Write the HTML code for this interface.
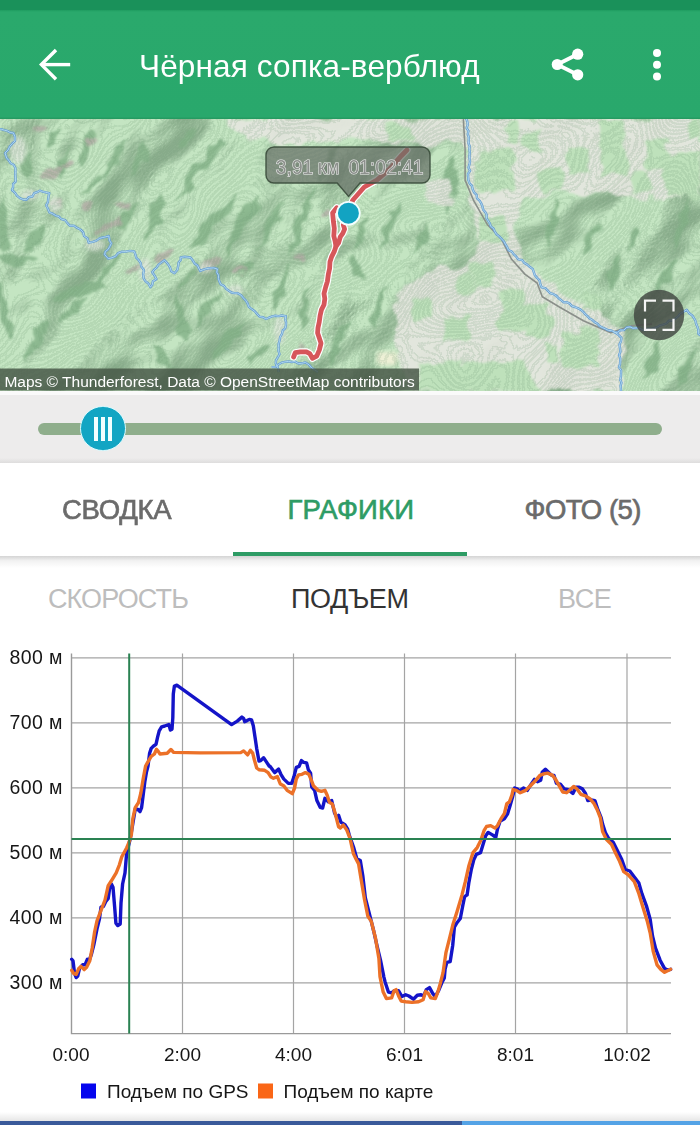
<!DOCTYPE html>
<html><head><meta charset="utf-8">
<style>
*{margin:0;padding:0;box-sizing:border-box}
html,body{width:700px;height:1125px;overflow:hidden;background:#fff;font-family:"Liberation Sans",Arial,sans-serif}
.abs{position:absolute}
#status{left:0;top:0;width:700px;height:10px;background:#1a915a}
#toolbar{left:0;top:10px;width:700px;height:108.6px;background:linear-gradient(#1f9c60,#2aa96c 2px,#29a86c 106.5px,#24985f);z-index:1}
#title{z-index:3;left:139px;top:45.5px;font-size:31.5px;color:#fff;letter-spacing:0.15px;white-space:nowrap;line-height:40px}
#map{left:0;top:118px;width:700px;height:273px;overflow:hidden;background:#c2e2c0}
#gap{left:0;top:391px;width:700px;height:4px;background:#fafafa}
#slider{left:0;top:395px;width:700px;height:68px;background:#edecec}
#slider .sh{left:0;bottom:0;width:700px;height:5px;background:linear-gradient(#edecec,#dedddd)}
#track{left:38px;top:423px;width:624px;height:12px;border-radius:6px;background:#8fae8c}
#thumb{left:79.8px;top:405.5px;width:45.8px;height:45.8px;border-radius:50%;background:#12a5c3;border:1.8px solid #dcfbff}
#thumb i{position:absolute;top:10px;width:4.3px;height:24px;background:#f2ffff}
.tab{position:absolute;top:490px;font-size:27.5px;-webkit-text-stroke:0.65px currentColor;letter-spacing:-0.3px;color:#6b6b6b;white-space:nowrap;line-height:40px}
#ind{left:233px;top:552px;width:234px;height:4px;background:#2e9c65}
#tabsh{left:0;top:556px;width:700px;height:12px;background:linear-gradient(#d4d4d4,#f2f2f2 40%,#fff)}
.sub{position:absolute;top:580.8px;font-size:27px;letter-spacing:-0.4px;white-space:nowrap;line-height:36px}
#bottombar{left:0;top:1121px;width:700px;height:4px;background:#54a3e6}
#bottombar b{position:absolute;left:0;top:0;width:462px;height:4px;background:#3a5a9a}
#bottomsh{left:0;top:1112px;width:700px;height:9px;background:linear-gradient(#fff,#e6e6e6)}
</style></head>
<body>
<div id="status" class="abs"></div>
<div id="toolbar" class="abs"></div>
<svg class="abs" style="left:0;top:0;z-index:3" width="700" height="118" viewBox="0 0 700 118">
  <g stroke="#fff" stroke-width="3.4" fill="none" stroke-linecap="square">
    <path d="M43 64.6H68.5"/>
    <path d="M54.8 51.2L41.4 64.6L54.8 78"/>
  </g>
  <g fill="#fff">
    <circle cx="577.7" cy="54.2" r="5.6"/>
    <circle cx="577.7" cy="74.8" r="5.6"/>
    <circle cx="557.2" cy="64.5" r="5.5"/>
    <path d="M557.2 64.5L577.7 54.2M557.2 64.5L577.7 74.8" stroke="#fff" stroke-width="3.8"/>
    <circle cx="657" cy="53" r="4"/>
    <circle cx="657" cy="64.8" r="4"/>
    <circle cx="657" cy="76.5" r="4"/>
  </g>
</svg>
<div id="title" class="abs">Чёрная сопка-верблюд</div>

<div id="map" class="abs">
<svg class="abs" style="left:0;top:0" width="700" height="273" viewBox="0 0 700 273">
<defs>
<filter id="b8" x="-50%" y="-50%" width="200%" height="200%"><feGaussianBlur stdDeviation="8"/></filter>
<filter id="b4" x="-50%" y="-50%" width="200%" height="200%"><feGaussianBlur stdDeviation="4"/></filter>
</defs>
<defs><filter id="hs" x="-50%" y="-50%" width="200%" height="200%" color-interpolation-filters="sRGB"><feTurbulence type="fractalNoise" baseFrequency="0.009 0.013" numOctaves="3" seed="5" result="n"/><feColorMatrix in="n" type="matrix" values="0 0 0 0 0  0 0 0 0 0  0 0 0 0 0  1 0 0 0 0" result="h"/><feDiffuseLighting in="h" surfaceScale="30" diffuseConstant="1.0" lighting-color="#fff" result="l"><feDistantLight azimuth="270" elevation="45"/></feDiffuseLighting><feColorMatrix in="l" type="matrix" values="0 0 0 0 0.38  0 0 0 0 0.52  0 0 0 0 0.40  -1.3 0 0 0 1.0"/></filter><filter id="ct" x="-50%" y="-50%" width="200%" height="200%" color-interpolation-filters="sRGB"><feTurbulence type="fractalNoise" baseFrequency="0.009 0.013" numOctaves="2" seed="5" result="n"/><feComponentTransfer in="n" result="b"><feFuncR type="discrete" tableValues="0 1 0 1 0 1 0 1 0 1 0 1 0 1 0 1 0 1 0 1 0 1 0 1 0 1 0 1 0 1 0 1 0 1 0 1 0 1 0 1 0 1 0 1 0 1 0 1 0 1 0 1 0 1 0 1 0 1 0 1"/></feComponentTransfer><feConvolveMatrix in="b" order="3" kernelMatrix="0 -1 0 -1 4 -1 0 -1 0" divisor="1" preserveAlpha="true" result="e"/><feColorMatrix in="e" type="matrix" values="0 0 0 0 0.42  0 0 0 0 0.58  0 0 0 0 0.45  2 0 0 0 0"/></filter><filter id="b3" x="-50%" y="-50%" width="200%" height="200%"><feGaussianBlur stdDeviation="3"/></filter><filter id="b2" x="-50%" y="-50%" width="200%" height="200%"><feGaussianBlur stdDeviation="2.2"/></filter><filter id="b1" x="-50%" y="-50%" width="200%" height="200%"><feTurbulence type="fractalNoise" baseFrequency="0.06" numOctaves="2" seed="3" result="t"/><feDisplacementMap in="SourceGraphic" in2="t" scale="16" xChannelSelector="R" yChannelSelector="G" result="d"/><feGaussianBlur in="d" stdDeviation="0.9"/></filter></defs>
<rect width="700" height="273" fill="#c4e5c2"/>
<g transform="rotate(-45 350 136)"><rect x="-400" y="-400" width="1500" height="1073" filter="url(#hs)" opacity="0.55"/></g>
<g transform="translate(0,-118)">
<g fill="#86b48a" filter="url(#b1)" opacity="0.85">
<path d="M32 150Q18.4 159.2 25 183Q36.2 163.0 32 150Z"/>
<path d="M72 148Q53.3 161.1 57 180Q69.8 168.8 72 148Z"/>
<path d="M97 125Q79.2 141.5 82 168Q96.4 147.5 97 125Z"/>
<path d="M125 138Q107.1 149.1 105 180Q123.6 156.9 125 138Z"/>
<path d="M105 173Q85.2 177.6 82 193Q95.2 189.1 105 173Z"/>
<path d="M150 143Q130.0 156.1 130 180Q146.0 164.8 150 143Z"/>
<path d="M165 193Q144.5 208.6 145 243Q164.2 216.5 165 193Z"/>
<path d="M140 200Q116.7 211.7 117 230Q131.2 222.8 140 200Z"/>
<path d="M5 195Q-15.0 226.2 3 255Q15.3 227.2 5 195Z"/>
<path d="M45 220Q23.8 228.8 28 255Q45.7 239.4 45 220Z"/>
<path d="M225 138Q197.1 151.4 175 200Q213.7 164.7 225 138Z"/>
<path d="M240 193Q200.6 214.9 190 250Q218.9 230.9 240 193Z"/>
<path d="M262 193Q233.2 215.3 225 255Q251.5 226.2 262 193Z"/>
<path d="M287 200Q263.9 214.5 257 255Q282.6 224.7 287 200Z"/>
<path d="M315 188Q287.8 222.9 290 255Q307.7 230.3 315 188Z"/>
<path d="M207 155Q187.8 169.2 185 193Q200.9 176.9 207 155Z"/>
<path d="M0 258Q13.5 274.8 37 262Q16.2 250.6 0 258Z"/>
<path d="M110 282Q71.2 278.7 55 300Q78.7 301.8 110 282Z"/>
<path d="M87 297Q62.0 302.1 57 325Q76.5 317.7 87 297Z"/>
<path d="M50 320Q26.1 329.5 25 360Q46.7 342.4 50 320Z"/>
<path d="M0 280Q-8.9 304.2 12 342Q12.0 300.2 0 280Z"/>
<path d="M150 342Q152.3 364.8 172 367Q168.3 350.7 150 342Z"/>
<path d="M292 262Q270.3 280.6 272 312Q290.0 288.5 292 262Z"/>
<path d="M257 260Q243.7 258.1 237 275Q252.8 270.3 257 260Z"/>
<path d="M222 292Q195.8 303.0 195 325Q212.2 316.5 222 292Z"/>
<path d="M247 320Q218.1 330.0 212 360Q236.4 346.0 247 320Z"/>
<path d="M270 342Q252.9 345.1 250 367Q267.1 356.5 270 342Z"/>
<path d="M175 292Q171.4 325.7 187 342Q189.1 321.4 175 292Z"/>
<path d="M350 318Q327.1 338.9 330 367Q346.8 347.0 350 318Z"/>
<path d="M350 255Q346.8 271.9 365 280Q362.5 262.5 350 255Z"/>
<path d="M455 150Q434.6 171.3 445 218Q461.7 175.3 455 150Z"/>
<path d="M400 200Q378.2 223.8 380 250Q395.2 230.5 400 200Z"/>
<path d="M430 225Q412.8 234.0 415 255Q429.1 242.2 430 225Z"/>
<path d="M560 200Q543.4 215.7 545 250Q560.9 221.0 560 200Z"/>
<path d="M600 225Q581.0 237.6 585 255Q597.3 245.8 600 225Z"/>
<path d="M640 225Q624.0 235.8 625 255Q637.6 242.5 640 225Z"/>
<path d="M690 200Q671.1 218.7 670 255Q688.2 224.9 690 200Z"/>
<path d="M622 255Q598.6 272.2 607 292Q621.2 281.4 622 255Z"/>
<path d="M675 262Q653.0 272.6 655 295Q671.2 283.6 675 262Z"/>
<path d="M660 340Q642.7 353.6 645 380Q659.8 360.0 660 340Z"/>
<path d="M695 345Q678.9 357.1 680 390Q696.2 362.9 695 345Z"/>
<path d="M340 140Q320.1 161.3 320 185Q334.0 167.5 340 140Z"/>
<path d="M370 215Q354.2 227.7 355 250Q368.2 233.7 370 215Z"/>
<path d="M195 125Q181.2 129.6 180 150Q194.2 137.4 195 125Z"/>
<path d="M60 125Q43.0 134.9 45 150Q56.0 142.7 60 125Z"/>
<path d="M120 250Q99.4 265.0 95 290Q112.3 273.0 120 250Z"/>
<path d="M200 262Q184.1 268.0 180 290Q196.4 276.8 200 262Z"/>
<path d="M310 290Q294.6 312.5 300 330Q309.3 316.2 310 290Z"/>
<path d="M385 285Q366.2 305.2 370 330Q383.5 311.0 385 285Z"/>
</g>
<g fill="#e6e7e0" filter="url(#b1)" opacity="0.9">
<polygon points="467,118 700,118 700,195 660,200 620,195 590,195 560,190 525,200 512,230 520,260 560,290 610,320 625,335 620,392 412,392 400,367 395,330 400,290 430,270 470,265 480,240 470,210 467,180"/>
<polygon points="228,118 467,118 467,140 420,146 380,143 350,141 300,142 250,140 232,130"/>
<polygon points="425,180 450,180 452,205 427,205"/>
</g>
<g fill="#bde1ba" filter="url(#b1)" opacity="0.95">
<polygon points="478,150 512,148 515,190 475,195"/>
<polygon points="525,133 540,131 542,150 526,152"/>
<polygon points="567,148 590,146 592,175 568,177"/>
<polygon points="600,120 625,120 627,173 602,175"/>
<polygon points="645,143 665,141 667,168 646,170"/>
<polygon points="665,158 700,150 700,200 665,195"/>
<polygon points="387,125 412,124 412,143 388,143"/>
<polygon points="445,317 470,315 470,337 445,339"/>
<polygon points="500,292 525,290 525,330 500,332"/>
<polygon points="525,305 550,303 550,337 525,339"/>
<polygon points="562,332 598,330 600,367 562,369"/>
<polygon points="420,366 525,360 540,392 415,392"/>
<polygon points="480,215 505,215 505,240 480,240"/>
<polygon points="470,265 490,262 495,285 472,290"/>
<polygon points="540,170 560,168 562,190 541,192"/>
<polygon points="630,175 650,172 652,192 632,195"/>
<polygon points="585,290 605,300 600,315 582,305"/>
<polygon points="410,300 430,296 432,318 412,322"/>
<polygon points="455,275 470,272 472,292 456,294"/>
<polygon points="505,125 520,122 522,140 506,142"/>
<polygon points="690,118 700,118 700,140 690,140"/>
<polygon points="545,345 560,343 560,360 545,362"/>
</g>
<rect x="377" y="352" width="20" height="13" rx="3" fill="#eef0d6" filter="url(#b2)"/>
<g fill="#b3aba6" filter="url(#b1)" opacity="0.8">
<ellipse cx="50" cy="173" rx="14" ry="4" transform="rotate(-25 50 173)"/>
<ellipse cx="70" cy="164" rx="8" ry="4" transform="rotate(-25 70 164)"/>
<ellipse cx="108" cy="226" rx="16" ry="5" transform="rotate(-25 108 226)"/>
<ellipse cx="57" cy="205" rx="6" ry="4" transform="rotate(-25 57 205)"/>
<ellipse cx="122" cy="205" rx="7" ry="4" transform="rotate(-25 122 205)"/>
<ellipse cx="164" cy="256" rx="12" ry="4" transform="rotate(-25 164 256)"/>
<ellipse cx="92" cy="143" rx="6" ry="3" transform="rotate(-25 92 143)"/>
<ellipse cx="212" cy="263" rx="12" ry="4" transform="rotate(-25 212 263)"/>
<ellipse cx="240" cy="270" rx="7" ry="3" transform="rotate(-25 240 270)"/>
<ellipse cx="300" cy="258" rx="6" ry="3" transform="rotate(-25 300 258)"/>
<ellipse cx="327" cy="213" rx="5" ry="3" transform="rotate(-25 327 213)"/>
<ellipse cx="303" cy="345" rx="5" ry="3" transform="rotate(-25 303 345)"/>
<ellipse cx="133" cy="270" rx="6" ry="3" transform="rotate(-25 133 270)"/>
<ellipse cx="40" cy="128" rx="8" ry="3" transform="rotate(-25 40 128)"/>
<ellipse cx="85" cy="205" rx="8" ry="3" transform="rotate(-25 85 205)"/>
</g>
<g fill="#dfe6dc" filter="url(#b2)" opacity="0.8">
<ellipse cx="18" cy="150" rx="8" ry="14"/>
<ellipse cx="30" cy="195" rx="10" ry="5"/>
<ellipse cx="55" cy="205" rx="6" ry="8"/>
<ellipse cx="95" cy="245" rx="10" ry="6"/>
<ellipse cx="145" cy="270" rx="6" ry="12"/>
<ellipse cx="205" cy="268" rx="8" ry="5"/>
<ellipse cx="235" cy="290" rx="8" ry="5"/>
<ellipse cx="280" cy="330" rx="6" ry="14"/>
</g>
</g>
<g transform="rotate(-45 350 136)"><rect x="-400" y="-400" width="1500" height="1073" filter="url(#ct)" opacity="0.16"/></g>
<polyline points="463.4,0.0 463.4,2.1 465.1,31.3 465.1,62.1 473.7,82.7 487.4,106.7 501.1,120.4 511.4,141.0 525.1,156.4 537.1,165.0 542.3,178.7 559.4,189.0 583.4,202.7 610.8,214.7 631.4,207.8 652.0,206.1" fill="none" stroke="#8a8f8a" stroke-width="1.6" stroke-linejoin="round"/>
<polyline points="-2.0,11.1 1.2,11.2 4.3,12.2 7.4,12.9 10.2,14.5 13.4,15.0 15.0,18.8 15.0,23.0 12.2,25.7 9.7,28.5 8.0,32.0 5.0,35.0 6.7,40.0 8.8,42.5 10.6,45.2 13.7,46.8 15.4,50.0 15.4,53.4 15.3,56.8 15.5,60.1 15.6,63.7 13.1,66.0 13.1,69.2 12.0,72.0 15.1,74.8 17.0,77.8 19.9,80.1 23.2,81.5 26.6,81.7 28.8,79.1 32.4,78.5 34.1,75.2 37.4,74.0 39.8,72.7 42.6,73.6 45.6,74.3 49.3,75.1 48.6,78.1 48.2,81.1 47.9,84.1 46.2,87.3 47.8,90.6 49.5,94.5 52.7,95.7 55.6,97.6 59.0,98.6 61.2,101.0 65.2,102.1 67.2,104.9 69.9,107.8 74.0,107.8 77.2,109.9 80.7,111.7 83.2,114.3 84.1,118.1 87.4,120.2 88.7,124.6 92.8,123.9 96.5,122.6 99.5,120.4 102.6,119.5 105.8,118.8 108.8,118.0 109.5,122.3 111.3,125.4 109.8,128.4 108.1,131.4 105.3,133.6 104.6,136.5 106.8,139.0 108.3,140.7 112.1,139.7 115.5,138.3 118.0,135.2 121.4,133.8 125.7,133.6 130.0,132.9 134.2,133.4 135.4,136.4 136.2,139.6 138.4,141.8 140.6,144.9 141.3,148.6 143.9,151.9 143.2,156.3 143.7,160.6 145.6,163.4 148.4,165.5 150.4,169.2 152.3,166.8 152.9,163.2 156.4,161.1 154.7,157.8 152.2,154.2 154.1,151.7 156.6,149.6 158.3,146.9 161.2,144.6 164.6,142.3 167.8,145.9 170.1,149.5 171.3,153.3 174.4,155.3 177.3,152.0 178.3,147.8 178.6,144.5 180.8,141.7 180.7,139.4 184.5,138.8 190.5,139.5 192.7,142.3 194.5,145.4 197.5,147.5 200.2,152.9 203.3,151.7 206.4,150.6 209.4,150.2 213.5,149.9 217.3,151.0 216.8,154.3 218.5,157.3 218.4,160.5 219.3,163.2 220.8,166.4 224.0,167.9 226.0,170.7 228.5,172.5 231.4,174.5 234.5,175.1 237.4,175.1 240.9,177.0 243.2,179.8 245.7,182.4 247.6,185.5 248.8,188.8 251.7,191.1 254.8,193.3 257.0,195.9 259.6,198.6 263.2,199.3 266.0,201.0 269.0,199.7 272.1,198.4 275.5,197.7 278.7,198.1 281.8,197.5 285.8,198.1 285.3,201.4 286.1,204.5 285.9,207.2 285.2,210.4 282.7,212.5 282.1,215.6 280.2,219.0 279.5,222.8 278.5,226.5 278.7,229.6 278.5,232.8 279.5,236.2 277.9,239.2 276.1,242.1 275.7,245.3 277.1,248.1 278.2,250.9 278.7,254.0" fill="none" stroke="#6a9fd2" stroke-width="2.4" stroke-linejoin="round"/>
<polyline points="271.6,249.1 275.5,249.0 278.3,246.6 281.4,244.7 285.0,243.9 288.4,243.4 291.7,244.0 295.0,243.6 298.3,245.5 301.6,245.3 305.4,244.5 309.0,246.8 311.9,250.2 314.9,252.1 318.0,254.0" fill="none" stroke="#6a9fd2" stroke-width="2.4" stroke-linejoin="round"/>
<polyline points="465.9,0.0 467.4,3.8 467.7,6.9 466.6,10.1 468.4,13.0 467.8,16.2 468.7,19.1 468.7,22.2 468.5,25.3 469.7,28.3 469.4,31.2 469.8,34.4 469.5,37.4 469.5,40.5 470.0,43.6 469.4,46.7 468.5,49.7 470.1,52.9 467.9,55.9 468.2,59.0 468.4,62.2 469.6,65.4 472.0,67.9 472.7,71.3 474.0,74.4 476.6,76.9 477.0,80.4 479.7,82.8 481.4,85.7 482.5,88.6 483.2,91.7 485.3,94.1 486.7,96.8 486.5,100.3 488.2,102.9 489.8,105.5 490.8,108.5 493.5,110.5 494.7,113.3 496.4,116.2 499.1,118.3 501.4,120.7 503.7,123.2 505.3,126.1 507.1,129.0 508.5,132.2 511.8,133.6 513.8,136.4 516.3,138.7 518.4,141.4 522.2,142.1 524.2,144.9 527.2,146.6 529.7,148.8 532.7,150.9 533.8,154.1 534.9,157.3 537.1,159.9 539.6,162.3 540.2,165.8 541.6,169.3 545.3,170.1 547.8,172.6 550.1,175.1 553.6,176.2 556.5,177.9 558.6,180.3 561.1,182.1 563.5,184.2 567.0,184.2 569.7,185.6 571.9,188.1 574.9,189.0 577.7,190.2 580.6,191.6 583.0,193.6 585.1,196.1 587.5,198.1 589.6,200.5 592.4,202.0 594.7,204.1 597.4,205.6 599.6,208.2 602.5,209.6 605.4,210.9 608.3,212.3 611.7,212.7 614.7,214.2 618.2,216.6 621.4,219.8 621.0,223.3 619.4,226.6 620.0,230.1 620.4,233.6 619.1,237.0 620.2,240.1 620.2,243.1 620.0,246.2 619.0,249.4 621.1,252.4 621.0,255.5 620.9,258.6 620.2,261.7 621.5,264.7 620.6,267.8 620.9,270.9 621.1,274.0" fill="none" stroke="#6a9fd2" stroke-width="2.4" stroke-linejoin="round"/>
<polyline points="613.7,214.1 617.4,214.4 620.3,212.2 623.9,212.1 626.5,209.5 630.0,208.9 632.9,210.2 636.1,209.9 639.2,210.0 642.0,211.3 645.1,212.3 647.8,210.6 651.2,211.0 654.1,210.1 657.1,209.2 659.8,207.5 663.2,206.7 666.4,205.5 668.8,202.8 672.5,202.5 675.4,200.6 678.0,198.4 680.3,195.7 683.2,193.9 686.7,191.8 689.2,195.3 692.3,197.5 694.1,200.3 695.5,202.9 696.2,205.9 697.5,208.9 698.4,211.8 698.3,215.7 701.6,218.3 702.0,222.0" fill="none" stroke="#6a9fd2" stroke-width="2.4" stroke-linejoin="round"/>
<polyline points="-2.0,11.1 1.2,11.2 4.3,12.2 7.4,12.9 10.2,14.5 13.4,15.0 15.0,18.8 15.0,23.0 12.2,25.7 9.7,28.5 8.0,32.0 5.0,35.0 6.7,40.0 8.8,42.5 10.6,45.2 13.7,46.8 15.4,50.0 15.4,53.4 15.3,56.8 15.5,60.1 15.6,63.7 13.1,66.0 13.1,69.2 12.0,72.0 15.1,74.8 17.0,77.8 19.9,80.1 23.2,81.5 26.6,81.7 28.8,79.1 32.4,78.5 34.1,75.2 37.4,74.0 39.8,72.7 42.6,73.6 45.6,74.3 49.3,75.1 48.6,78.1 48.2,81.1 47.9,84.1 46.2,87.3 47.8,90.6 49.5,94.5 52.7,95.7 55.6,97.6 59.0,98.6 61.2,101.0 65.2,102.1 67.2,104.9 69.9,107.8 74.0,107.8 77.2,109.9 80.7,111.7 83.2,114.3 84.1,118.1 87.4,120.2 88.7,124.6 92.8,123.9 96.5,122.6 99.5,120.4 102.6,119.5 105.8,118.8 108.8,118.0 109.5,122.3 111.3,125.4 109.8,128.4 108.1,131.4 105.3,133.6 104.6,136.5 106.8,139.0 108.3,140.7 112.1,139.7 115.5,138.3 118.0,135.2 121.4,133.8 125.7,133.6 130.0,132.9 134.2,133.4 135.4,136.4 136.2,139.6 138.4,141.8 140.6,144.9 141.3,148.6 143.9,151.9 143.2,156.3 143.7,160.6 145.6,163.4 148.4,165.5 150.4,169.2 152.3,166.8 152.9,163.2 156.4,161.1 154.7,157.8 152.2,154.2 154.1,151.7 156.6,149.6 158.3,146.9 161.2,144.6 164.6,142.3 167.8,145.9 170.1,149.5 171.3,153.3 174.4,155.3 177.3,152.0 178.3,147.8 178.6,144.5 180.8,141.7 180.7,139.4 184.5,138.8 190.5,139.5 192.7,142.3 194.5,145.4 197.5,147.5 200.2,152.9 203.3,151.7 206.4,150.6 209.4,150.2 213.5,149.9 217.3,151.0 216.8,154.3 218.5,157.3 218.4,160.5 219.3,163.2 220.8,166.4 224.0,167.9 226.0,170.7 228.5,172.5 231.4,174.5 234.5,175.1 237.4,175.1 240.9,177.0 243.2,179.8 245.7,182.4 247.6,185.5 248.8,188.8 251.7,191.1 254.8,193.3 257.0,195.9 259.6,198.6 263.2,199.3 266.0,201.0 269.0,199.7 272.1,198.4 275.5,197.7 278.7,198.1 281.8,197.5 285.8,198.1 285.3,201.4 286.1,204.5 285.9,207.2 285.2,210.4 282.7,212.5 282.1,215.6 280.2,219.0 279.5,222.8 278.5,226.5 278.7,229.6 278.5,232.8 279.5,236.2 277.9,239.2 276.1,242.1 275.7,245.3 277.1,248.1 278.2,250.9 278.7,254.0" fill="none" stroke="#b5def2" stroke-width="0.9" stroke-linejoin="round"/>
<polyline points="271.6,249.1 275.5,249.0 278.3,246.6 281.4,244.7 285.0,243.9 288.4,243.4 291.7,244.0 295.0,243.6 298.3,245.5 301.6,245.3 305.4,244.5 309.0,246.8 311.9,250.2 314.9,252.1 318.0,254.0" fill="none" stroke="#b5def2" stroke-width="0.9" stroke-linejoin="round"/>
<polyline points="465.9,0.0 467.4,3.8 467.7,6.9 466.6,10.1 468.4,13.0 467.8,16.2 468.7,19.1 468.7,22.2 468.5,25.3 469.7,28.3 469.4,31.2 469.8,34.4 469.5,37.4 469.5,40.5 470.0,43.6 469.4,46.7 468.5,49.7 470.1,52.9 467.9,55.9 468.2,59.0 468.4,62.2 469.6,65.4 472.0,67.9 472.7,71.3 474.0,74.4 476.6,76.9 477.0,80.4 479.7,82.8 481.4,85.7 482.5,88.6 483.2,91.7 485.3,94.1 486.7,96.8 486.5,100.3 488.2,102.9 489.8,105.5 490.8,108.5 493.5,110.5 494.7,113.3 496.4,116.2 499.1,118.3 501.4,120.7 503.7,123.2 505.3,126.1 507.1,129.0 508.5,132.2 511.8,133.6 513.8,136.4 516.3,138.7 518.4,141.4 522.2,142.1 524.2,144.9 527.2,146.6 529.7,148.8 532.7,150.9 533.8,154.1 534.9,157.3 537.1,159.9 539.6,162.3 540.2,165.8 541.6,169.3 545.3,170.1 547.8,172.6 550.1,175.1 553.6,176.2 556.5,177.9 558.6,180.3 561.1,182.1 563.5,184.2 567.0,184.2 569.7,185.6 571.9,188.1 574.9,189.0 577.7,190.2 580.6,191.6 583.0,193.6 585.1,196.1 587.5,198.1 589.6,200.5 592.4,202.0 594.7,204.1 597.4,205.6 599.6,208.2 602.5,209.6 605.4,210.9 608.3,212.3 611.7,212.7 614.7,214.2 618.2,216.6 621.4,219.8 621.0,223.3 619.4,226.6 620.0,230.1 620.4,233.6 619.1,237.0 620.2,240.1 620.2,243.1 620.0,246.2 619.0,249.4 621.1,252.4 621.0,255.5 620.9,258.6 620.2,261.7 621.5,264.7 620.6,267.8 620.9,270.9 621.1,274.0" fill="none" stroke="#b5def2" stroke-width="0.9" stroke-linejoin="round"/>
<polyline points="613.7,214.1 617.4,214.4 620.3,212.2 623.9,212.1 626.5,209.5 630.0,208.9 632.9,210.2 636.1,209.9 639.2,210.0 642.0,211.3 645.1,212.3 647.8,210.6 651.2,211.0 654.1,210.1 657.1,209.2 659.8,207.5 663.2,206.7 666.4,205.5 668.8,202.8 672.5,202.5 675.4,200.6 678.0,198.4 680.3,195.7 683.2,193.9 686.7,191.8 689.2,195.3 692.3,197.5 694.1,200.3 695.5,202.9 696.2,205.9 697.5,208.9 698.4,211.8 698.3,215.7 701.6,218.3 702.0,222.0" fill="none" stroke="#b5def2" stroke-width="0.9" stroke-linejoin="round"/>
<polyline points="293.6,239.0 295.3,234.7 300.4,233.8 306.4,233.8 309.8,235.6 312.4,240.3 316.7,238.1 319.3,232.1 321.0,225.3 319.3,220.1 317.6,215.0 318.0,209.8 319.3,203.8 320.1,197.8 321.4,191.9 324.0,186.7 324.8,180.7 324.0,175.6 325.7,169.0 327.4,163.4 328.3,156.6 329.6,150.6 330.0,143.7 331.7,138.6 334.3,133.4 336.0,128.3 335.1,123.1 333.8,118.0 334.3,110.3 333.4,103.4 332.6,94.9 336.8,89.7" fill="none" stroke="#fff" stroke-width="7.2" stroke-linejoin="round" stroke-linecap="round"/>
<polyline points="336.0,128.3 338.6,124.8 340.3,118.8 342.8,115.4 344.6,111.1 343.3,106.9 346.0,100.0" fill="none" stroke="#fff" stroke-width="7.2" stroke-linejoin="round" stroke-linecap="round"/>
<polyline points="348.0,94.0 352.9,82.0 364.3,69.0 377.0,62.0 390.0,50.6 401.4,37.7 407.0,32.0" fill="none" stroke="#fff" stroke-width="7.2" stroke-linejoin="round" stroke-linecap="round"/>
<polyline points="293.6,239.0 295.3,234.7 300.4,233.8 306.4,233.8 309.8,235.6 312.4,240.3 316.7,238.1 319.3,232.1 321.0,225.3 319.3,220.1 317.6,215.0 318.0,209.8 319.3,203.8 320.1,197.8 321.4,191.9 324.0,186.7 324.8,180.7 324.0,175.6 325.7,169.0 327.4,163.4 328.3,156.6 329.6,150.6 330.0,143.7 331.7,138.6 334.3,133.4 336.0,128.3 335.1,123.1 333.8,118.0 334.3,110.3 333.4,103.4 332.6,94.9 336.8,89.7" fill="none" stroke="#d6565a" stroke-width="4.8" stroke-linejoin="round" stroke-linecap="round"/>
<polyline points="336.0,128.3 338.6,124.8 340.3,118.8 342.8,115.4 344.6,111.1 343.3,106.9 346.0,100.0" fill="none" stroke="#d6565a" stroke-width="4.8" stroke-linejoin="round" stroke-linecap="round"/>
<polyline points="348.0,94.0 352.9,82.0 364.3,69.0 377.0,62.0 390.0,50.6 401.4,37.7 407.0,32.0" fill="none" stroke="#d6565a" stroke-width="4.8" stroke-linejoin="round" stroke-linecap="round"/>
<circle cx="348.4" cy="95.19999999999999" r="11.4" fill="#12a3c2" stroke="#f4ffff" stroke-width="1.8"/>
<path d="M274 29H422A8 8 0 0 1 430 37V57A8 8 0 0 1 422 65H360L348.6 78.5L337.2 65H274A8 8 0 0 1 266 57V37A8 8 0 0 1 274 29Z" fill="rgba(102,112,102,0.72)" stroke="rgba(62,80,63,0.95)" stroke-width="1.4"/>
<text x="275.8" y="56.30000000000001" font-family="Liberation Sans, Arial, sans-serif" font-size="19.3" fill="#8d918d" stroke="#f2f2f2" stroke-width="1.05" paint-order="stroke" style="white-space:pre" word-spacing="-0.9">3,91 км  01:02:41</text>
<circle cx="659" cy="197" r="25.2" fill="rgba(60,64,60,0.78)"/>
<path d="M645 193.60000000000002V182.60000000000002H656 M662.5 182.60000000000002H673.5V193.60000000000002 M673.5 200.8V211.8H662.5 M656 211.8H645V200.8" fill="none" stroke="#f4f4f4" stroke-width="2.2"/>
<rect x="0" y="250.5" width="419" height="22.0" fill="rgba(68,84,68,0.82)"/>
<text x="4.4" y="269" font-family="Liberation Sans, Arial, sans-serif" font-size="15.5" fill="#fff">Maps © Thunderforest, Data © OpenStreetMap contributors</text>
</svg>
</div>

<div id="gap" class="abs"></div>
<div id="slider" class="abs"><div class="abs sh"></div></div>
<div id="track" class="abs"></div>
<div id="thumb" class="abs"><i style="left:12.8px"></i><i style="left:19.9px"></i><i style="left:26.9px"></i></div>

<div class="tab" style="left:62px">СВОДКА</div>
<div class="tab" style="left:287.5px;color:#2e9c65;letter-spacing:0.2px">ГРАФИКИ</div>
<div class="tab" style="left:524.5px;letter-spacing:-0.5px">ФОТО (5)</div>
<div id="ind" class="abs"></div>
<div id="tabsh" class="abs"></div>

<div class="sub" style="left:48px;color:#bdbdbd;letter-spacing:-0.9px">СКОРОСТЬ</div>
<div class="sub" style="left:291px;color:#333">ПОДЪЕМ</div>
<div class="sub" style="left:558px;color:#bdbdbd">ВСЕ</div>

<div id="chart"><svg class="abs" style="left:0;top:0" width="700" height="1125" viewBox="0 0 700 1125">
<g stroke="#a4a4a4" stroke-width="1.2" fill="none">
<path d="M71.5 657.8H671"/>
<path d="M71.5 722.8H671"/>
<path d="M71.5 787.8H671"/>
<path d="M71.5 852.8H671"/>
<path d="M71.5 917.8H671"/>
<path d="M71.5 982.8H671"/>
<path d="M182.5 653.5V1033.5"/>
<path d="M293.5 653.5V1033.5"/>
<path d="M404.5 653.5V1033.5"/>
<path d="M515.5 653.5V1033.5"/>
<path d="M627 653.5V1033.5"/>
</g>
<path d="M71.5 653.5V1033.6H671" stroke="#9a9a9a" stroke-width="1.4" fill="none"/>
<polyline points="71.7,959.2 73.0,960.8 74.6,973.6 76.2,977.6 77.8,976.0 79.4,968.8 82.6,964.8 85.0,964.8 87.4,959.2 89.0,960.8 91.4,954.4 93.8,944.8 97.0,928.8 99.4,919.2 101.0,907.2 103.4,906.4 105.8,901.6 108.2,898.4 109.8,887.2 111.4,884.0 113.0,887.2 114.6,906.4 115.9,923.2 117.8,925.6 120.2,924.0 121.0,903.2 122.6,884.0 125.0,872.8 126.6,853.6 128.2,847.2 130.4,838.0 132.8,823.6 135.2,809.2 137.6,809.2 140.0,811.6 141.6,807.6 143.2,794.8 144.8,782.0 146.4,772.4 148.0,766.0 149.6,753.2 151.2,748.4 153.6,746.0 156.0,744.4 157.6,737.2 159.2,730.8 161.6,726.8 164.8,726.0 167.2,725.2 168.8,724.4 170.4,730.0 172.0,729.2 172.8,718.0 173.3,694.0 174.4,686.0 176.8,685.2 231.6,724.6 237.3,721.1 241.9,717.1 243.6,718.3 244.7,721.7 247.0,720.6 249.3,719.4 251.6,720.0 253.3,725.7 255.0,737.1 256.7,748.6 259.0,761.1 260.7,760.6 263.6,757.7 265.9,761.1 269.3,766.3 270.0,766.3 274.6,772.6 278.6,769.1 280.9,774.3 283.7,778.9 288.3,783.4 291.7,783.4 294.0,776.6 296.3,767.4 299.1,766.3 301.4,760.6 303.7,762.3 306.6,762.9 308.3,769.7 310.6,773.1 311.7,786.9 314.6,790.3 316.9,800.6 320.3,807.4 322.6,808.0 324.9,798.3 328.3,801.7 331.7,800.6 334.6,813.1 336.9,817.7 338.6,815.4 340.9,822.3 344.9,824.6 347.7,829.1 349.3,835.2 353.5,847.0 356.9,858.9 360.3,860.5 362.8,875.7 365.3,897.7 368.7,911.2 371.3,921.4 373.8,931.5 377.2,946.7 380.5,960.2 383.9,977.1 385.1,981.9 388.4,992.1 391.6,992.8 394.1,990.8 398.6,990.8 401.9,996.6 405.7,994.7 408.9,996.0 413.4,999.2 417.3,995.3 421.1,994.7 423.7,996.0 426.3,989.6 429.5,987.6 432.7,993.4 435.3,996.6 438.5,990.8 441.7,983.1 444.3,978.0 445.1,969.2 446.8,962.4 450.2,961.6 452.7,945.5 454.4,927.0 457.0,922.7 460.3,918.5 462.9,905.0 464.6,896.6 467.1,894.9 468.8,883.0 471.3,869.5 473.9,859.4 476.4,854.3 480.6,852.6 483.1,844.2 485.7,835.7 488.2,832.4 492.4,834.9 495.8,837.4 497.5,829.0 500.0,821.4 504.3,818.9 507.6,813.8 510.2,805.3 512.4,797.5 514.7,788.0 517.1,788.8 519.4,791.2 523.4,788.0 527.3,790.4 531.2,784.1 534.4,779.4 537.5,781.7 540.7,780.2 542.2,772.3 545.4,769.2 548.5,772.3 551.7,775.4 554.0,775.4 556.4,783.3 560.3,784.1 564.2,788.8 568.2,789.6 572.9,793.5 576.0,787.2 579.2,787.2 582.3,788.8 585.5,793.5 587.8,800.6 591.0,799.8 594.9,800.6 598.0,810.0 601.2,817.9 602.6,824.1 605.6,833.2 608.6,838.4 613.2,842.2 617.7,851.3 621.5,858.9 625.3,869.5 629.8,871.0 634.3,877.0 638.9,883.1 641.9,893.7 646.4,905.8 650.2,919.4 652.5,936.0 655.5,948.1 660.1,960.2 664.6,968.6 667.6,970.1 670.6,969.3" stroke="#1414c8" stroke-width="3.4" fill="none" stroke-linejoin="round" stroke-linecap="round"/>
<polyline points="71.7,970.4 73.8,973.6 76.2,974.4 78.6,968.8 81.0,966.4 84.2,969.6 86.6,967.2 89.8,960.8 92.2,948.0 94.6,932.0 97.0,920.8 101.0,910.4 105.0,900.0 108.2,885.6 111.4,880.8 116.2,872.8 119.4,864.8 121.8,856.8 126.6,848.0 129.0,842.4 131.4,834.4 132.8,818.8 135.2,807.6 138.4,802.8 140.8,793.2 143.2,778.8 145.6,766.0 148.8,760.4 151.2,756.4 154.4,754.0 156.5,749.2 158.4,751.6 160.0,754.0 167.2,753.2 170.9,749.5 173.6,752.4 200.0,752.9 240.7,752.6 243.6,750.9 247.6,754.9 250.4,750.3 252.7,753.1 254.4,760.0 256.7,768.0 259.0,769.7 264.7,770.3 268.1,772.6 271.0,777.1 273.4,778.3 277.4,776.6 280.3,784.0 283.7,785.7 287.1,790.3 292.3,793.7 294.6,788.0 296.3,778.9 298.6,774.9 302.0,774.3 305.4,772.6 308.9,774.3 311.7,781.1 313.4,785.7 318.0,790.3 321.4,791.4 324.9,790.3 327.1,794.9 329.4,802.3 332.3,804.0 335.1,813.1 338.6,826.9 340.3,828.0 343.4,825.1 346.8,830.1 350.1,838.6 353.5,853.8 356.0,858.9 358.6,863.9 361.1,879.1 364.5,899.4 367.9,916.3 371.3,921.4 375.5,938.2 378.9,958.5 380.0,976.7 383.2,992.1 386.4,998.6 391.6,997.9 394.1,990.8 396.1,989.6 398.6,996.0 401.2,1001.1 405.7,1001.8 412.1,1002.4 418.6,1001.8 423.1,999.8 425.6,991.5 428.2,993.4 430.8,997.9 435.3,998.6 437.8,992.1 440.4,983.1 443.0,972.9 446.0,952.3 449.4,938.8 452.7,925.3 457.0,911.8 462.0,894.9 465.4,881.4 468.8,866.1 473.0,852.6 477.2,847.6 480.6,840.8 484.0,830.7 486.5,826.5 490.7,825.6 495.0,828.1 497.5,825.6 500.9,818.9 504.3,813.8 506.8,803.6 509.3,802.0 511.9,795.2 513.1,789.6 516.3,790.4 520.2,792.7 525.7,790.4 530.4,785.7 535.9,780.2 539.9,775.4 543.8,773.9 547.7,773.1 552.5,775.4 555.6,779.4 558.7,784.9 562.7,792.0 566.6,792.7 571.3,788.8 573.7,786.4 576.8,788.8 580.8,794.3 585.5,795.9 590.2,799.0 594.1,803.7 597.3,810.0 600.4,817.9 602.6,831.6 606.3,839.2 611.6,844.5 615.4,852.8 619.2,860.4 623.7,871.7 628.3,874.8 634.3,881.6 638.9,893.7 643.4,908.8 647.2,920.9 650.2,933.0 653.2,951.2 657.0,964.8 660.8,969.3 664.6,972.3 667.6,970.8 670.6,969.3" stroke="#ec7128" stroke-width="3.4" fill="none" stroke-linejoin="round" stroke-linecap="round"/>
<path d="M129.2 653.5V1033.5M71.5 839H671" stroke="#2a8252" stroke-width="2" fill="none"/>
<g font-family="Liberation Sans, Arial, sans-serif" font-size="19" fill="#161616">
<text x="62.8" y="664.0999999999999" text-anchor="end" font-size="19.5" letter-spacing="0.4">800 м</text>
<text x="62.8" y="729.0999999999999" text-anchor="end" font-size="19.5" letter-spacing="0.4">700 м</text>
<text x="62.8" y="794.0999999999999" text-anchor="end" font-size="19.5" letter-spacing="0.4">600 м</text>
<text x="62.8" y="859.0999999999999" text-anchor="end" font-size="19.5" letter-spacing="0.4">500 м</text>
<text x="62.8" y="924.0999999999999" text-anchor="end" font-size="19.5" letter-spacing="0.4">400 м</text>
<text x="62.8" y="989.0999999999999" text-anchor="end" font-size="19.5" letter-spacing="0.4">300 м</text>
<text x="71" y="1060.5" text-anchor="middle">0:00</text>
<text x="182.5" y="1060.5" text-anchor="middle">2:00</text>
<text x="293.5" y="1060.5" text-anchor="middle">4:00</text>
<text x="404.5" y="1060.5" text-anchor="middle">6:01</text>
<text x="515.5" y="1060.5" text-anchor="middle">8:01</text>
<text x="627" y="1060.5" text-anchor="middle">10:02</text>
<rect x="81" y="1083.5" width="15" height="15" fill="#0505ee"/>
<text x="107" y="1098">Подъем по GPS</text>
<rect x="258" y="1083.5" width="15" height="15" fill="#fa6616"/>
<text x="283.5" y="1098">Подъем по карте</text>
</g></svg></div>

<div id="bottomsh" class="abs"></div>
<div id="bottombar" class="abs"><b></b></div>
</body></html>
